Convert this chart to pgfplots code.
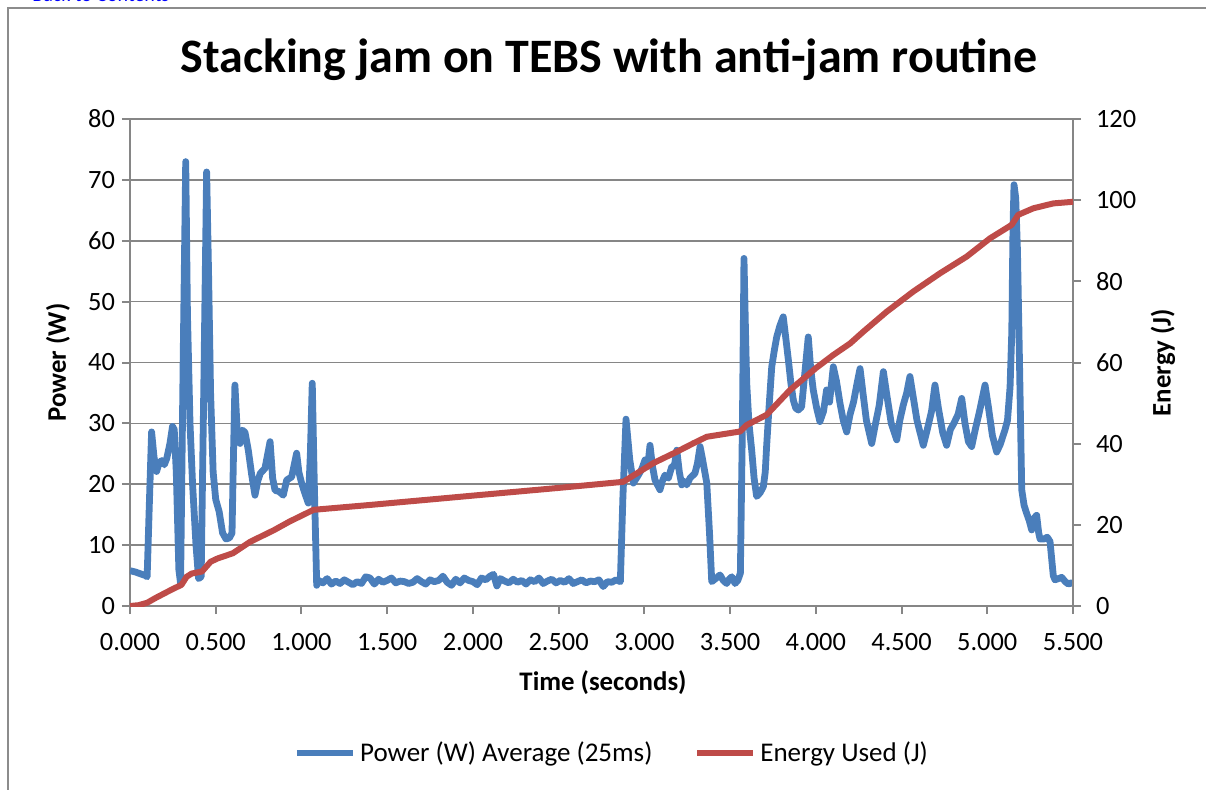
\documentclass[border=0pt]{standalone}
\usepackage{fontspec}
\setmainfont{Carlito}
\usepackage{pgfplots}
\usepackage{pgfplotstable}
\pgfplotsset{compat=1.18}

\definecolor{powblue}{RGB}{74,126,187}
\definecolor{enred}{RGB}{190,75,72}
\definecolor{gridgray}{RGB}{134,134,134}
\definecolor{framegray}{RGB}{140,140,140}

% power, averaged over 25 ms
\pgfplotstableread{
t P
0.000 5.8
0.030 5.6
0.060 5.3
0.090 5.0
0.100 4.8
0.112 16.0
0.126 28.6
0.140 24.5
0.155 22.1
0.170 23.5
0.185 23.9
0.200 23.2
0.214 24.2
0.233 26.7
0.248 29.5
0.258 29.0
0.270 22.0
0.285 6.0
0.295 3.7
0.310 40.0
0.325 73.0
0.335 48.0
0.350 30.0
0.365 20.0
0.385 10.0
0.400 4.5
0.415 4.8
0.430 35.0
0.447 71.3
0.458 55.0
0.470 35.0
0.485 22.0
0.500 17.5
0.520 15.5
0.540 12.0
0.560 11.0
0.580 11.2
0.595 12.0
0.603 24.0
0.612 36.3
0.625 29.0
0.642 26.7
0.656 28.9
0.671 28.5
0.690 25.6
0.710 21.5
0.729 18.2
0.745 20.5
0.760 21.8
0.787 22.6
0.800 24.5
0.817 27.0
0.832 21.0
0.846 19.0
0.870 18.8
0.894 18.2
0.914 20.7
0.943 21.2
0.960 23.5
0.972 25.1
0.985 22.0
1.001 20.2
1.020 18.5
1.040 16.9
1.052 25.0
1.063 36.6
1.075 20.0
1.089 3.4
1.100 4.2
1.125 3.8
1.150 4.5
1.175 3.6
1.200 4.1
1.225 3.7
1.250 4.3
1.275 3.9
1.300 3.5
1.325 4.0
1.350 3.7
1.375 4.8
1.400 4.6
1.425 3.6
1.450 4.4
1.475 3.9
1.500 4.2
1.525 4.6
1.550 3.8
1.575 4.1
1.600 4.0
1.625 3.7
1.650 3.9
1.675 4.5
1.700 4.0
1.725 3.6
1.750 4.3
1.775 4.0
1.800 4.2
1.825 4.9
1.850 3.9
1.875 3.4
1.900 4.4
1.925 3.8
1.950 4.6
1.975 4.2
2.000 4.0
2.025 3.5
2.050 4.6
2.075 4.3
2.100 4.9
2.120 5.2
2.140 3.3
2.160 4.5
2.185 4.1
2.210 3.8
2.235 4.4
2.260 3.9
2.285 4.2
2.310 3.6
2.335 4.3
2.360 4.0
2.385 4.6
2.410 3.7
2.435 4.1
2.460 4.4
2.485 3.8
2.510 4.2
2.535 3.9
2.560 4.5
2.585 3.7
2.610 4.0
2.635 4.3
2.660 3.8
2.685 4.1
2.710 4.0
2.735 4.3
2.760 3.2
2.785 4.0
2.810 3.9
2.835 4.3
2.860 4.0
2.875 18.0
2.893 30.7
2.915 24.0
2.936 20.2
2.965 21.5
2.985 22.5
3.004 24.0
3.020 23.0
3.033 26.4
3.047 23.0
3.062 20.7
3.091 19.1
3.105 20.5
3.120 21.5
3.140 21.0
3.160 22.9
3.175 23.0
3.189 25.6
3.204 22.0
3.218 19.9
3.232 20.5
3.247 19.9
3.266 21.0
3.295 21.8
3.310 23.5
3.325 26.2
3.340 24.0
3.364 20.2
3.380 12.0
3.393 4.0
3.420 4.6
3.441 5.1
3.460 4.2
3.480 3.7
3.495 4.4
3.510 4.8
3.529 3.7
3.545 4.2
3.560 5.4
3.572 30.0
3.581 57.1
3.590 45.0
3.597 36.6
3.610 30.0
3.626 25.6
3.640 21.0
3.655 18.0
3.675 18.6
3.694 19.6
3.705 22.0
3.713 26.2
3.728 33.0
3.743 39.3
3.758 42.0
3.772 44.2
3.790 46.0
3.810 47.5
3.825 44.0
3.840 40.4
3.855 36.5
3.869 33.8
3.883 32.5
3.898 32.2
3.917 32.7
3.935 38.0
3.956 44.2
3.970 39.0
3.985 35.5
4.005 32.5
4.024 30.3
4.045 32.0
4.063 35.5
4.080 33.5
4.102 39.3
4.120 37.0
4.141 33.3
4.160 30.5
4.180 28.6
4.200 31.5
4.220 33.5
4.240 36.5
4.258 39.0
4.275 35.0
4.295 30.5
4.326 26.7
4.345 29.5
4.370 33.0
4.394 38.5
4.415 34.5
4.440 30.0
4.472 27.3
4.490 30.5
4.510 33.0
4.530 35.0
4.549 37.7
4.570 34.0
4.590 30.5
4.627 26.4
4.650 29.0
4.675 32.0
4.695 36.3
4.715 32.5
4.740 28.5
4.763 26.4
4.785 29.0
4.805 30.0
4.830 31.5
4.851 34.1
4.870 30.0
4.890 27.0
4.909 26.2
4.930 29.0
4.955 32.0
4.987 36.3
5.005 33.0
5.030 28.0
5.055 25.3
5.075 26.5
5.103 28.9
5.118 30.5
5.133 36.0
5.143 45.0
5.150 62.0
5.156 69.2
5.166 67.0
5.176 58.5
5.188 40.0
5.201 19.1
5.215 16.5
5.230 15.2
5.245 14.0
5.259 12.5
5.275 14.5
5.288 14.9
5.300 12.0
5.308 11.0
5.330 11.0
5.350 11.3
5.366 10.6
5.385 5.0
5.395 4.3
5.415 4.5
5.434 4.7
5.455 4.0
5.473 3.6
5.490 3.8
5.500 3.7
}\powertable

% cumulative energy
\pgfplotstableread{
t E
0.000 0.0
0.050 0.2
0.100 0.8
0.150 2.0
0.200 3.1
0.250 4.2
0.300 5.2
0.330 7.2
0.360 8.0
0.420 8.5
0.470 10.9
0.510 11.7
0.600 13.0
0.700 15.8
0.840 18.7
0.930 20.8
1.070 23.7
1.400 24.9
2.000 27.2
2.500 29.1
2.877 30.6
3.052 35.2
3.189 38.0
3.286 40.1
3.364 41.7
3.558 43.0
3.597 44.6
3.713 47.1
3.849 53.2
4.000 58.6
4.100 61.8
4.200 64.7
4.277 67.6
4.413 72.5
4.569 77.5
4.725 82.0
4.880 86.1
5.016 90.6
5.142 93.9
5.181 96.4
5.269 98.0
5.385 99.2
5.500 99.6
}\energytable

\begin{document}
\begin{tikzpicture}
\useasboundingbox (-65pt,-91.5pt) rectangle (538pt,303pt);
\clip (-65pt,-91.5pt) rectangle (538pt,303pt);
\draw[framegray, line width=1pt] (-61pt,-95pt) -- (-61pt,299pt) -- (545pt,299pt);
\node[anchor=base west, text=blue, font=\fontsize{10}{12}\selectfont, inner sep=0pt] at (-49pt,302pt) {Back to Contents};
\node[font=\fontsize{24}{29}\selectfont\bfseries] at (239.5pt,273pt) {Stacking jam on TEBS with anti-jam routine};

\pgfplotsset{
  every axis/.append style={
    scale only axis, width=471.5pt, height=243.5pt,
    at={(0,0)}, anchor=south west,
    xmin=0, xmax=5.5,
    /pgf/number format/assume math mode=true,
    tick label style={font=\fontsize{13.2}{15}\selectfont},
    label style={font=\fontsize{13.4}{15}\selectfont\bfseries},
    axis line style={gridgray, line width=1pt},
    major tick style={gridgray, line width=1pt},
    tick align=outside, major tick length=4pt,
  }
}

\begin{axis}[
  axis y line*=left, axis x line*=bottom,
  ymin=0, ymax=80, ytick={0,10,20,30,40,50,60,70,80},
  xtick={0,0.5,1,1.5,2,2.5,3,3.5,4,4.5,5,5.5},
  xticklabel style={yshift=-6pt, /pgf/number format/.cd, fixed, fixed zerofill, precision=3},
  ymajorgrids, grid style={gridgray, line width=0.8pt},
  xlabel={Time (seconds)}, ylabel={Power (W)},
  xlabel style={at={(axis description cs:0.5016,-0.158)}, anchor=center},
  ylabel style={at={(axis description cs:-0.0764,0.5)}, anchor=center},
]
\addplot[powblue, line width=3.4pt, line join=round] table[x=t, y=P] {\powertable};
\end{axis}

\begin{axis}[
  axis y line*=right, axis x line=none,
  ymin=0, ymax=120, ytick={0,20,40,60,80,100,120},
  yticklabel style={xshift=4pt},
  ylabel={Energy (J)},
  ylabel style={at={(axis description cs:1.0954,0.5)}, anchor=center},
  legend style={at={(0.512,-0.302)}, anchor=center, draw=none, fill=none,
    legend columns=2, font=\fontsize{13.5}{15}\selectfont,
    /tikz/every even column/.append style={column sep=19pt},
    inner sep=0pt},
  legend image code/.code={\draw[#1] (0pt,0pt) -- (28pt,0pt);},
]
\addlegendimage{powblue, line width=3.2pt}
\addlegendentry{Power (W) Average (25ms)}
\addplot[enred, line width=3pt, line join=round] table[x=t, y=E] {\energytable};
\addlegendentry{Energy Used (J)}
\end{axis}
\end{tikzpicture}
\end{document}
